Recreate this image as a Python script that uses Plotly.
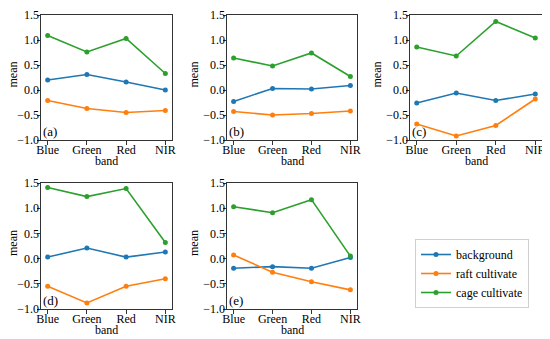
import plotly.graph_objects as go

bands = ["Blue", "Green", "Red", "NIR"]
series_names = ["background", "raft cultivate", "cage cultivate"]
panel_labels = ["(a)", "(b)", "(c)", "(d)", "(e)"]

background = [
    [0.20, 0.31, 0.16, 0.00],
    [-0.23, 0.03, 0.02, 0.09],
    [-0.26, -0.06, -0.21, -0.08],
    [0.03, 0.21, 0.03, 0.13],
    [-0.19, -0.16, -0.19, 0.02],
]
raft = [
    [-0.21, -0.37, -0.45, -0.41],
    [-0.43, -0.50, -0.47, -0.42],
    [-0.68, -0.92, -0.71, -0.18],
    [-0.55, -0.88, -0.55, -0.40],
    [0.07, -0.27, -0.46, -0.62],
]
cage = [
    [1.09, 0.76, 1.03, 0.33],
    [0.64, 0.48, 0.74, 0.27],
    [0.86, 0.68, 1.37, 1.04],
    [1.41, 1.23, 1.39, 0.32],
    [1.03, 0.91, 1.17, 0.05],
]
y_ticks = [-1.0, -0.5, 0.0, 0.5, 1.0, 1.5]

colors = ["#1f77b4", "#ff7f0e", "#2ca02c"]
OFF = 8  # default page body margin
W, H = 550 - OFF, 339 - OFF
FONT = "Liberation Serif"


def px_x(p):
    return (p - OFF) / W


def px_y(p):
    return 1 - (p - OFF) / H


# pixel boxes in the window (left, right, top, bottom)
boxes = [
    (41, 172, 15, 140),
    (227, 357, 15, 140),
    (410, 542, 15, 140),
    (41, 172, 183, 309),
    (227, 357, 183, 309),
]

fig = go.Figure()
for i, (l, r, t, b) in enumerate(boxes):
    n = "" if i == 0 else str(i + 1)
    xa, ya = "x" + n, "y" + n
    for s, data in enumerate([background, raft, cage]):
        fig.add_trace(go.Scatter(
            x=bands, y=data[i], mode="lines+markers",
            name=series_names[s], showlegend=(i == 0),
            line=dict(color=colors[s], width=1.6),
            marker=dict(color=colors[s], size=5),
            xaxis=xa, yaxis=ya,
        ))
    axis_common = dict(
        showline=True, linecolor="#333333", linewidth=1, mirror=True,
        ticks="outside", ticklen=3.5, tickcolor="#333333", tickwidth=1,
        showgrid=False, zeroline=False, automargin=False,
        ticklabeloverflow="allow",
        tickfont=dict(family=FONT, size=12, color="black"),
    )
    fig.layout["xaxis" + n] = dict(
        axis_common, domain=[px_x(l), px_x(r)], anchor=ya,
        type="category", range=[-0.17, 3.17], ticklabelstandoff=-5,
    )
    fig.layout["yaxis" + n] = dict(
        axis_common, domain=[px_y(b), px_y(t)], anchor=xa,
        range=[-1.0, 1.5], tickvals=y_ticks, tickformat=".1f",
        ticklabelstandoff=-5,
    )
    fig.add_annotation(
        text=panel_labels[i], xref=xa + " domain", yref=ya + " domain",
        x=0.0, y=0.0, xanchor="left", yanchor="bottom", showarrow=False,
        font=dict(family=FONT, size=13, color="black"), xshift=0, yshift=-1,
    )
    # axis titles
    fig.add_annotation(
        text="band", xref="paper", yref="paper",
        x=px_x((l + r) / 2), y=px_y(b + 21), xanchor="center", yanchor="middle",
        showarrow=False, font=dict(family=FONT, size=12, color="black"),
    )
    fig.add_annotation(
        text="mean", xref="paper", yref="paper", textangle=-90,
        x=px_x(max(l - 33, OFF + 5)), y=px_y((t + b) / 2 - 3),
        xanchor="center", yanchor="middle",
        showarrow=False, font=dict(family=FONT, size=12, color="black"),
    )

fig.update_layout(
    width=W, height=H, margin=dict(l=0, r=0, t=0, b=0, autoexpand=False),
    paper_bgcolor="white", plot_bgcolor="white",
    font=dict(family=FONT, size=12, color="black"),
    legend=dict(
        x=px_x(415), y=px_y(239), xanchor="left", yanchor="top",
        bgcolor="white", bordercolor="#d0d0d0", borderwidth=1,
        font=dict(family=FONT, size=12, color="black"),
        itemwidth=30, tracegroupgap=0,
    ),
)

fig.write_html("out.html")
